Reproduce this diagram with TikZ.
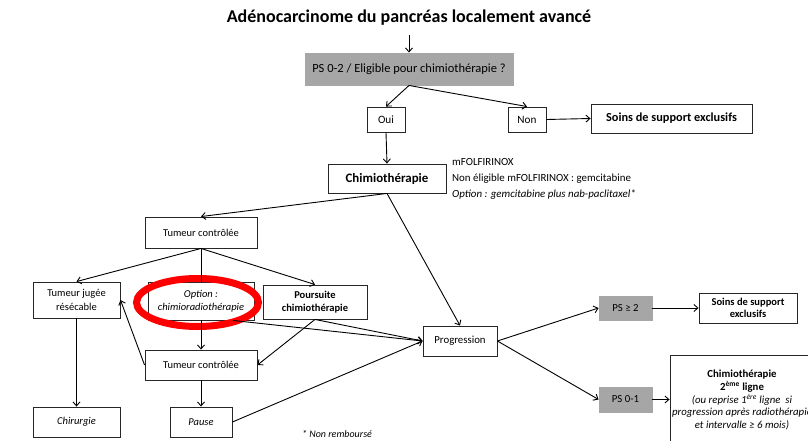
\documentclass[tikz,border=0pt]{standalone}
\usepackage{fontspec}
\setmainfont{Carlito}
\usetikzlibrary{arrows.meta,shadows}
\tikzset{
    >={Straight Barb[length=4pt,width=7pt]},
    box/.style={draw=black!85, line width=0.9pt, fill=white, align=center,
        inner sep=1pt, font=\fontsize{10.5}{13.4}\selectfont,
        drop shadow={shadow xshift=1pt, shadow yshift=-1pt, opacity=0.25}},
    greybox/.style={box, fill=black!35, draw=black!35},
    link/.style={->, line width=0.9pt},
}

\begin{document}
\begin{tikzpicture}[x=1pt,y=-1pt]
\clip (0,0) rectangle (808,441);

\node (title) at (409,18) {\fontsize{18}{21}\selectfont\bfseries Adénocarcinome du pancréas localement avancé};
\node[greybox, minimum width=208, minimum height=32, font=\fontsize{12.5}{15}\selectfont] (ps02) at (409,69) {PS 0-2 / Eligible pour chimiothérapie ?};
\node[box, minimum width=38, minimum height=25, font=\fontsize{11.2}{13}\selectfont] (oui) at (386,119.5) {Oui};
\node[box, minimum width=38, minimum height=25, font=\fontsize{11.2}{13}\selectfont] (non) at (527,119.5) {Non};
\node[box, minimum width=161, minimum height=29, font=\fontsize{12.3}{14}\selectfont\bfseries] (soins) at (671.5,118.5) {Soins de support exclusifs};
\node[box, minimum width=118, minimum height=29, font=\fontsize{12.9}{15}\selectfont\bfseries] (chimio) at (387,178.5) {Chimiothérapie};
\node[anchor=north west, align=left, inner sep=0pt, font=\fontsize{10.9}{16}\selectfont] (notes) at (452,158)
    {mFOLFIRINOX\\Non éligible mFOLFIRINOX : gemcitabine\\\textit{Option : gemcitabine plus nab-paclitaxel*}};

\node[box, minimum width=112, minimum height=31] (tc1) at (201,232.5) {Tumeur contrôlée};
\node[box, minimum width=87, minimum height=36] (resec) at (76.5,300) {Tumeur jugée\\résécable};
\node[box, minimum width=106, minimum height=38, font=\fontsize{10.5}{13.4}\selectfont\itshape] (option) at (201,301) {Option :\\chimioradiothérapie};
\node[box, minimum width=104, minimum height=34, font=\fontsize{10.5}{13.4}\selectfont\bfseries] (poursuite) at (315,302) {Poursuite\\chimiothérapie};
\node[box, minimum width=112, minimum height=30] (tc2) at (201,365) {Tumeur contrôlée};
\node[box, minimum width=87, minimum height=30, font=\fontsize{10.5}{13.4}\selectfont\itshape] (chir) at (76.5,422) {Chirurgie};
\node[box, minimum width=62, minimum height=30, font=\fontsize{10.5}{13.4}\selectfont\itshape] (pause) at (201,422) {Pause};
\node[font=\fontsize{10}{12}\selectfont\itshape] (nonremb) at (337,434) {* Non remboursé};

\node[box, minimum width=74, minimum height=30, font=\fontsize{10.8}{13}\selectfont] (prog) at (460,341) {Progression};
\node[greybox, minimum width=53, minimum height=24, font=\fontsize{10.8}{13}\selectfont] (ps2) at (625.5,308) {PS ≥ 2};
\node[box, minimum width=98, minimum height=30, font=\fontsize{10.5}{12.5}\selectfont\bfseries] (soins2) at (748,308) {Soins de support\\exclusifs};
\node[greybox, minimum width=53, minimum height=25, font=\fontsize{10.8}{13}\selectfont] (ps01) at (625.5,399.5) {PS 0-1};
\node[box, minimum width=144, minimum height=90, font=\fontsize{10.8}{12.8}\selectfont] (chimio2) at (742,400)
    {\textbf{Chimiothérapie}\\\textbf{2\textsuperscript{ème} ligne}\\\textit{(ou reprise 1\textsuperscript{ère} ligne~~si}\\\textit{progression après radiothérapie}\\\textit{et intervalle ≥ 6 mois)}};

% surlignage
\draw[red, line width=7pt] (197.5,302.5) ellipse [x radius=61, y radius=24];

% liens
\draw[link] ([yshift=-6pt]title.south) -- (ps02.north);
\draw[link] (ps02.south) -- (oui.north);
\draw[link] (ps02.south) -- (non.north);
\draw[link] (non.east) -- (soins.west);
\draw[link] (oui.south) -- (chimio.north);
\draw[link] (chimio.south) -- (tc1.north);
\draw[link] (chimio.south) -- (prog.north);
\draw[link] (tc1.south) -- (resec.north);
\draw[link] (tc1.south) -- (poursuite.north);
\draw[line width=0.9pt] (tc1.south) -- (option.north);
\draw[link] (option.south) -- (tc2.north);
\draw[link] ([xshift=32pt]option.south) -- (prog.west);
\draw[link] (poursuite.south) -- (prog.west);
\draw[link] (poursuite.south) -- (tc2.east);
\draw[link] (tc2.west) -- (resec.east);
\draw[link] (resec.south) -- (chir.north);
\draw[link] (tc2.south) -- (pause.north);
\draw[link] (pause.east) -- (prog.west);
\draw[link] (prog.east) -- (ps2.west);
\draw[link] (prog.east) -- (ps01.west);
\draw[link] (ps2.east) -- (soins2.west);
\draw[link] (ps01.east) -- (ps01.east -| chimio2.west);
\end{tikzpicture}
\end{document}
